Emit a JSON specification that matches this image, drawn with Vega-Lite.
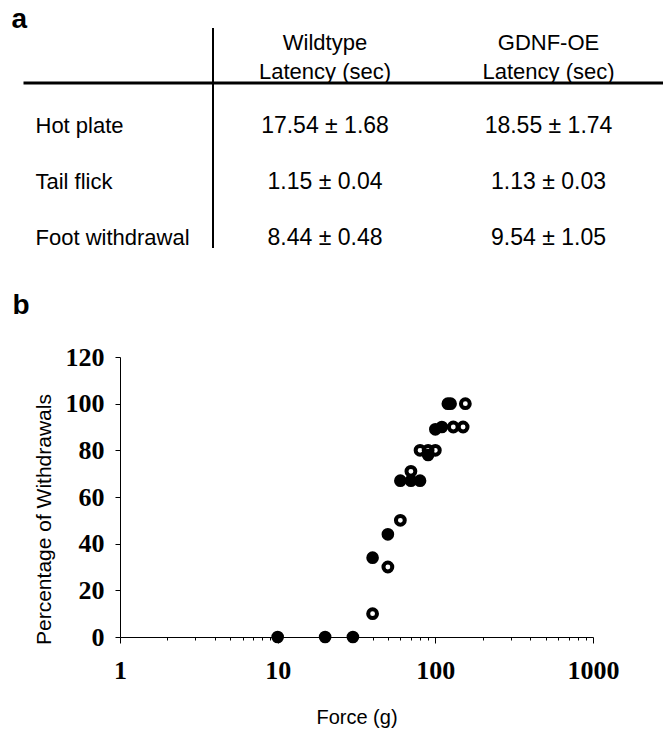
{
  "$schema": "https://vega.github.io/schema/vega-lite/v6.json",
  "padding": {"left": 11, "top": 6, "right": 0, "bottom": 2},
  "bounds": "flush",
  "spacing": 27,
  "config": {
    "view": {"stroke": null},
    "font": "Liberation Sans",
    "text": {"font": "Liberation Sans", "fontSize": 22, "color": "black"},
    "axis": {"domainColor": "black", "tickColor": "black", "labelColor": "black", "titleColor": "black", "grid": false}
  },
  "datasets": {
    "latency": [
      {"test": "Hot plate", "Wildtype": "17.54 ± 1.68", "GDNF-OE": "18.55 ± 1.74"},
      {"test": "Tail flick", "Wildtype": "1.15 ± 0.04", "GDNF-OE": "1.13 ± 0.03"},
      {"test": "Foot withdrawal", "Wildtype": "8.44 ± 0.48", "GDNF-OE": "9.54 ± 1.05"}
    ],
    "headers": [
      {"group": "Wildtype", "line": "name", "label": "Wildtype"},
      {"group": "Wildtype", "line": "unit", "label": "Latency (sec)"},
      {"group": "GDNF-OE", "line": "name", "label": "GDNF-OE"},
      {"group": "GDNF-OE", "line": "unit", "label": "Latency (sec)"}
    ],
    "panels": [{"panel": "a"}, {"panel": "b"}],
    "withdrawals": [
      {"genotype": "Wildtype", "force": 10, "pct": 0},
      {"genotype": "Wildtype", "force": 20, "pct": 0},
      {"genotype": "Wildtype", "force": 30, "pct": 0},
      {"genotype": "Wildtype", "force": 40, "pct": 34},
      {"genotype": "Wildtype", "force": 50, "pct": 44},
      {"genotype": "Wildtype", "force": 60, "pct": 67},
      {"genotype": "Wildtype", "force": 70, "pct": 67},
      {"genotype": "Wildtype", "force": 80, "pct": 67},
      {"genotype": "Wildtype", "force": 90, "pct": 78},
      {"genotype": "Wildtype", "force": 100, "pct": 89},
      {"genotype": "Wildtype", "force": 110, "pct": 90},
      {"genotype": "Wildtype", "force": 120, "pct": 100},
      {"genotype": "Wildtype", "force": 125, "pct": 100},
      {"genotype": "GDNF-OE", "force": 40, "pct": 10},
      {"genotype": "GDNF-OE", "force": 50, "pct": 30},
      {"genotype": "GDNF-OE", "force": 60, "pct": 50},
      {"genotype": "GDNF-OE", "force": 70, "pct": 71},
      {"genotype": "GDNF-OE", "force": 80, "pct": 80},
      {"genotype": "GDNF-OE", "force": 90, "pct": 80},
      {"genotype": "GDNF-OE", "force": 100, "pct": 80},
      {"genotype": "GDNF-OE", "force": 130, "pct": 90},
      {"genotype": "GDNF-OE", "force": 150, "pct": 90},
      {"genotype": "GDNF-OE", "force": 155, "pct": 100}
    ]
  },
  "vconcat": [
    {
      "width": 473,
      "height": 302,
      "layer": [
        {
          "data": {"values": [{"border": "column divider"}]},
          "mark": {"type": "rule", "strokeWidth": 2, "color": "black"},
          "encoding": {
            "x": {"datum": 0, "type": "quantitative", "scale": {"domain": [0, 1], "range": [93, 94], "nice": false}, "axis": null},
            "y": {"datum": 0, "type": "quantitative", "scale": {"domain": [0, 1], "range": [0, 220], "nice": false}, "axis": null},
            "y2": {"datum": 1}
          }
        },
        {
          "data": {"values": [{"border": "header divider"}]},
          "mark": {"type": "rule", "strokeWidth": 3, "color": "black"},
          "encoding": {
            "x": {"datum": 0, "type": "quantitative", "scale": {"domain": [0, 1], "range": [-96.5, 543.5], "nice": false}, "axis": null},
            "x2": {"datum": 1},
            "y": {"datum": 0, "type": "quantitative", "scale": {"domain": [0, 1], "range": [55, 56], "nice": false}, "axis": null}
          }
        },
        {
          "data": {"name": "headers"},
          "mark": {"type": "text", "align": "center", "baseline": "alphabetic", "fontSize": 22},
          "encoding": {
            "x": {"field": "group", "type": "nominal", "scale": {"type": "point", "domain": ["Wildtype", "GDNF-OE"], "range": [205, 428.5], "padding": 0}, "axis": null},
            "y": {"field": "line", "type": "nominal", "scale": {"type": "point", "domain": ["name", "unit"], "range": [22, 51], "padding": 0}, "axis": null},
            "text": {"field": "label"}
          }
        },
        {
          "data": {"name": "latency"},
          "mark": {"type": "text", "align": "left", "baseline": "alphabetic", "fontSize": 22},
          "encoding": {
            "x": {"field": "test", "type": "nominal", "scale": {"type": "point", "domain": ["Hot plate", "Tail flick", "Foot withdrawal"], "range": [-84.5, -84.5], "padding": 0}, "axis": null},
            "y": {"field": "test", "type": "nominal", "scale": {"type": "point", "domain": ["Hot plate", "Tail flick", "Foot withdrawal"], "range": [105, 217], "padding": 0}, "axis": null},
            "text": {"field": "test"}
          }
        },
        {
          "data": {"name": "latency"},
          "transform": [{"fold": ["Wildtype", "GDNF-OE"], "as": ["group", "latency"]}],
          "mark": {"type": "text", "align": "center", "baseline": "alphabetic", "fontSize": 23},
          "encoding": {
            "x": {"field": "group", "type": "nominal", "scale": {"type": "point", "domain": ["Wildtype", "GDNF-OE"], "range": [205, 428.5], "padding": 0}, "axis": null},
            "y": {"field": "test", "type": "nominal", "scale": {"type": "point", "domain": ["Hot plate", "Tail flick", "Foot withdrawal"], "range": [105, 217], "padding": 0}, "axis": null},
            "text": {"field": "latency"}
          }
        },
        {
          "data": {"name": "panels"},
          "mark": {"type": "text", "align": "left", "baseline": "alphabetic", "fontSize": 28, "fontWeight": "bold"},
          "encoding": {
            "x": {"field": "panel", "type": "nominal", "scale": {"type": "point", "domain": ["a", "b"], "range": [-108.5, -107.5], "padding": 0}, "axis": null},
            "y": {"field": "panel", "type": "nominal", "scale": {"type": "point", "domain": ["a", "b"], "range": [0, 286], "padding": 0}, "axis": null},
            "text": {"field": "panel"}
          }
        }
      ],
      "resolve": {"scale": {"x": "independent", "y": "independent"}}
    },
    {
      "width": 473,
      "height": 280,
      "data": {"name": "withdrawals"},
      "encoding": {
        "x": {
          "field": "force",
          "type": "quantitative",
          "scale": {"type": "log", "domain": [1, 1000], "nice": false},
          "axis": {
            "values": [1, 2, 3, 4, 5, 6, 7, 8, 9, 10, 20, 30, 40, 50, 60, 70, 80, 90, 100, 200, 300, 400, 500, 600, 700, 800, 900, 1000],
            "format": "d",
            "labelExpr": "(datum.value == 1 || datum.value == 10 || datum.value == 100 || datum.value == 1000) ? datum.label : ''",
            "labelOverlap": false,
            "labelFlush": false,
            "labelBound": false,
            "labelFont": "Liberation Serif",
            "labelFontWeight": "bold",
            "labelFontSize": 26,
            "labelBaseline": "alphabetic",
            "labelPadding": 35,
            "tickSize": {"condition": {"test": "datum.value == 1 || datum.value == 10 || datum.value == 100 || datum.value == 1000", "value": 6}, "value": 3},
            "tickWidth": 1,
            "domainWidth": 1,
            "title": "Force (g)",
            "titleFont": "Liberation Sans",
            "titleFontSize": 20,
            "titleFontWeight": "normal",
            "titleY": 86,
            "titleBaseline": "alphabetic"
          }
        },
        "y": {
          "field": "pct",
          "type": "quantitative",
          "scale": {"domain": [0, 120], "nice": false},
          "axis": {
            "values": [0, 20, 40, 60, 80, 100, 120],
            "format": "d",
            "labelFont": "Liberation Serif",
            "labelFontWeight": "bold",
            "labelFontSize": 26,
            "labelPadding": 11,
            "labelFlush": false,
            "tickSize": 5,
            "tickWidth": 1,
            "domainWidth": 1,
            "title": "Percentage of Withdrawals",
            "titleFont": "Liberation Sans",
            "titleFontSize": 21,
            "titleFontWeight": "normal",
            "titleAngle": -90,
            "titleX": -70,
            "titleY": 162,
            "titleAlign": "center",
            "titleBaseline": "alphabetic"
          }
        }
      },
      "layer": [
        {
          "transform": [{"filter": "datum.genotype == 'Wildtype'"}],
          "mark": {"type": "circle", "size": 160, "color": "black", "opacity": 1}
        },
        {
          "transform": [{"filter": "datum.genotype == 'GDNF-OE'"}],
          "mark": {"type": "point", "shape": "circle", "filled": false, "size": 78, "strokeWidth": 4, "color": "black", "opacity": 1}
        }
      ]
    }
  ]
}
